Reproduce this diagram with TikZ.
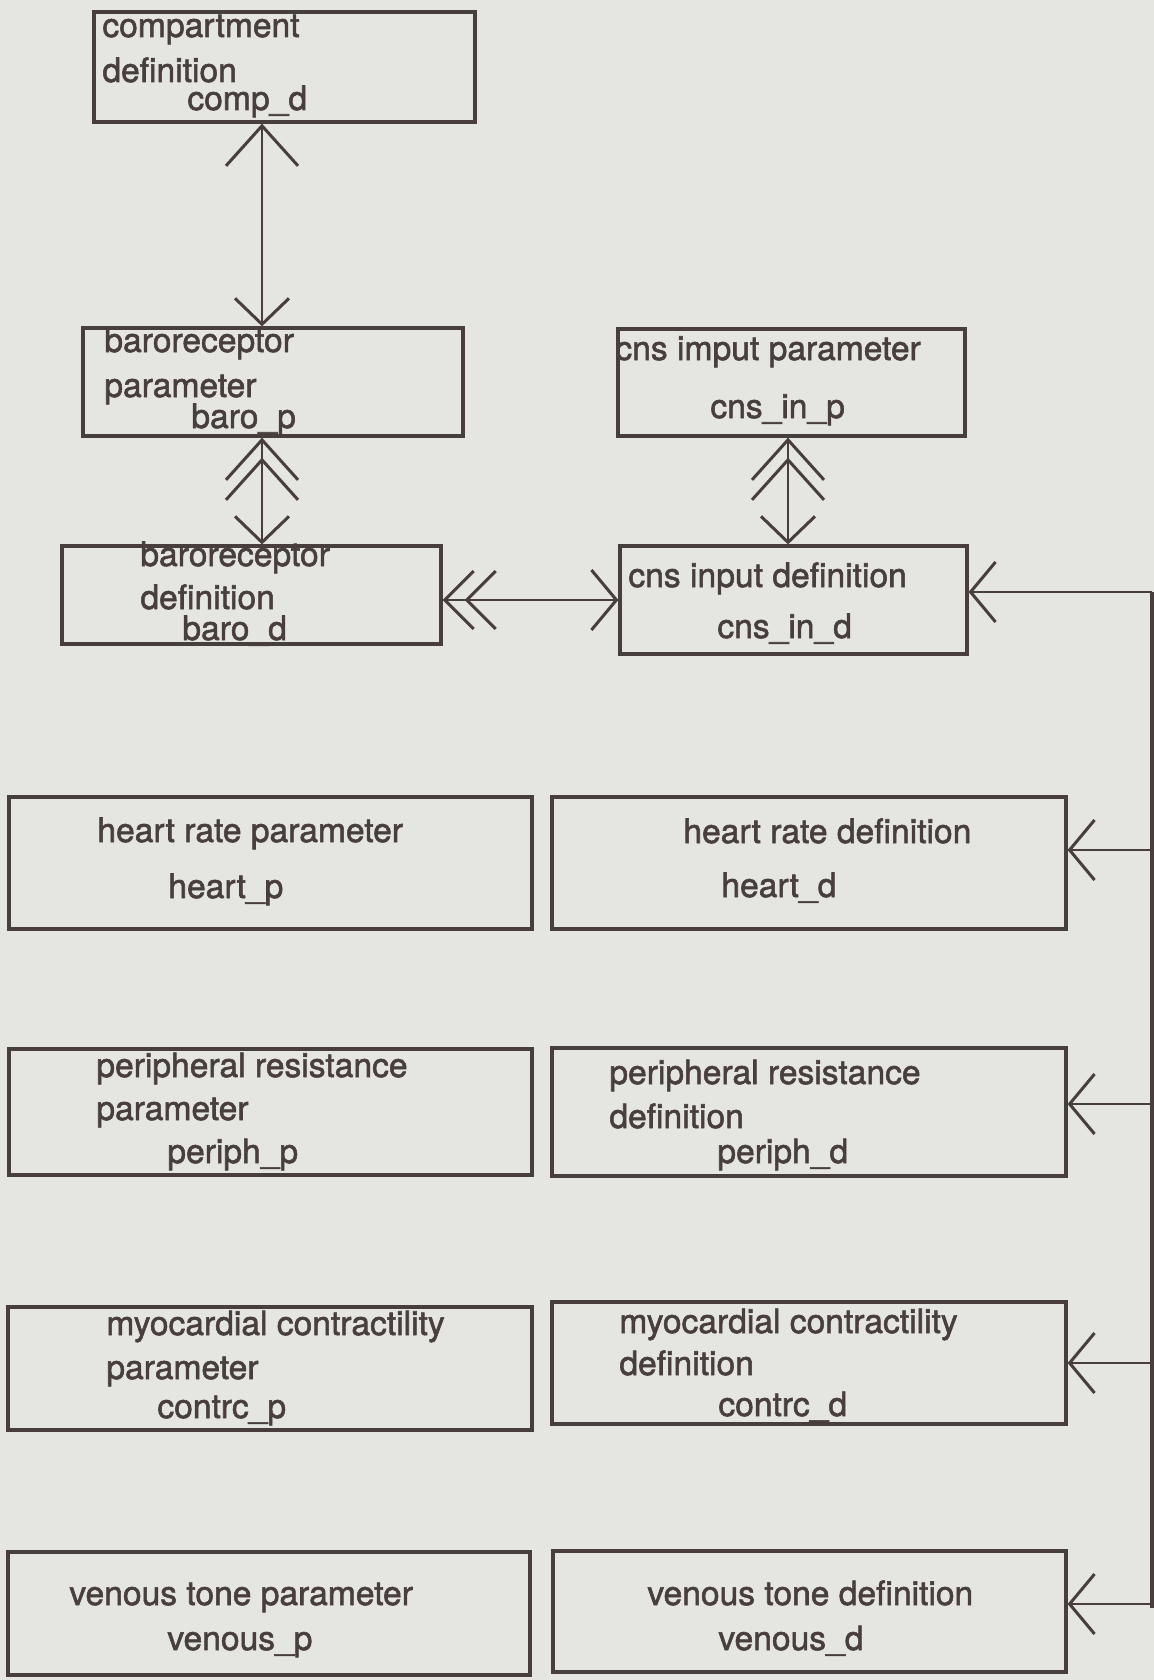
\documentclass[tikz,border=0pt]{standalone}
\usepackage{fontspec}
\setmainfont{TeX Gyre Heros}[FakeBold=1.6]
\usetikzlibrary{arrows.meta,fit,decorations.markings}
\definecolor{paper}{RGB}{229,229,226}
\definecolor{ink}{RGB}{72,62,62}

\tikzset{
  bigbarb/.tip={Straight Barb[length=20pt,width=36pt,line width=1.5pt]},
  smallbarb/.tip={Straight Barb[length=13pt,width=27pt,line width=1.5pt]},
  midbarb/.tip={Straight Barb[length=14.5pt,width=29pt,line width=1.5pt]},
  sidebarb/.tip={Straight Barb[length=12.5pt,width=30pt,line width=1.5pt]},
  box/.style={draw=ink, line width=1.6pt, inner sep=0pt, rectangle},
  lbl/.style={inner sep=0pt, anchor=base west, text=ink,
              font=\fontsize{16.8}{20}\selectfont},
  conn/.style={draw=ink, line width=1.25pt},
  bus/.style={draw=ink, line width=2pt},
  % second chevron of a double head at the start of a connector
  dblstart/.style 2 args={postaction={decorate,
      decoration={markings, mark=at position #1 with {\arrowreversed{#2}}}}},
}

\begin{document}
\begin{tikzpicture}[x=0.5pt,y=-0.5pt]
\fill[paper] (0,0) rectangle (1154,1680);
\useasboundingbox (0,0) rectangle (1154,1680);

% ---- boxes ----
\node[box, fit={(94,12) (475,122)}]     (compD) {};
\node[box, fit={(83,328) (463,436)}]    (baroP) {};
\node[box, fit={(618,329) (965,436)}]   (cnsP) {};
\node[box, fit={(62,546) (441,644)}]    (baroD) {};
\node[box, fit={(620,546) (967,654)}]   (cnsD) {};
\node[box, fit={(9,797) (532,929)}]     (heartP) {};
\node[box, fit={(552,797) (1066,929)}]  (heartD) {};
\node[box, fit={(9,1049) (532,1175)}]   (periphP) {};
\node[box, fit={(552,1048) (1066,1176)}] (periphD) {};
\node[box, fit={(8,1307) (532,1430)}]   (contrcP) {};
\node[box, fit={(552,1302) (1066,1424)}] (contrcD) {};
\node[box, fit={(8,1552) (530,1675)}]   (venousP) {};
\node[box, fit={(553,1551) (1066,1672)}] (venousD) {};

% ---- labels ----
\node[lbl] (compD1) at (102,37)  {compartment};
\node[lbl] (compD2) at (102,82)  {definition};
\node[lbl] (compD3) at (187,110) {comp\_d};

\node[lbl] (baroP1) at (104,352) {baroreceptor};
\node[lbl] (baroP2) at (104,397) {parameter};
\node[lbl] (baroP3) at (191,428) {baro\_p};

\node[lbl] (cnsP1) at (615,360) {cns imput parameter};
\node[lbl] (cnsP2) at (710,418) {cns\_in\_p};

\node[lbl] (baroD1) at (140,566) {baroreceptor};
\node[lbl] (baroD2) at (140,609) {definition};
\node[lbl] (baroD3) at (182,640) {baro\_d};

\node[lbl] (cnsD1) at (628,587) {cns input definition};
\node[lbl] (cnsD2) at (717,638) {cns\_in\_d};

\node[lbl] (heartP1) at (97,842)  {heart rate parameter};
\node[lbl] (heartP2) at (168,898) {heart\_p};
\node[lbl] (heartD1) at (683,843) {heart rate definition};
\node[lbl] (heartD2) at (721,897) {heart\_d};

\node[lbl] (periphP1) at (96,1077)  {peripheral resistance};
\node[lbl] (periphP2) at (96,1120)  {parameter};
\node[lbl] (periphP3) at (167,1163) {periph\_p};
\node[lbl] (periphD1) at (609,1084) {peripheral resistance};
\node[lbl] (periphD2) at (609,1128) {definition};
\node[lbl] (periphD3) at (717,1163) {periph\_d};

\node[lbl] (contrcP1) at (106,1335) {myocardial contractility};
\node[lbl] (contrcP2) at (106,1379) {parameter};
\node[lbl] (contrcP3) at (157,1418) {contrc\_p};
\node[lbl] (contrcD1) at (619,1333) {myocardial contractility};
\node[lbl] (contrcD2) at (619,1375) {definition};
\node[lbl] (contrcD3) at (718,1416) {contrc\_d};

\node[lbl] (venousP1) at (69,1605)  {venous tone parameter};
\node[lbl] (venousP2) at (167,1650) {venous\_p};
\node[lbl] (venousD1) at (647,1605) {venous tone definition};
\node[lbl] (venousD2) at (718,1650) {venous\_d};

% ---- guide coordinates for connectors ----
\coordinate (colA) at (262,0);
\coordinate (colB) at (788,0);
\coordinate (rowA) at (0,600);
\coordinate (busTop) at (1152,592);
\coordinate (busBot) at (1152,1608);
\coordinate (tapHeart)  at (1152,850);
\coordinate (tapPeriph) at (1152,1104);
\coordinate (tapContrc) at (1152,1363);
\coordinate (tapVenous) at (1152,1604);

% ---- connectors ----
\draw[conn, {bigbarb}-{smallbarb}] (compD.south -| colA) -- (baroP.north -| colA);
\draw[conn, {bigbarb}-{smallbarb}, dblstart={10pt}{bigbarb}]
  (baroP.south -| colA) -- (baroD.north -| colA);
\draw[conn, {bigbarb}-{smallbarb}, dblstart={10pt}{bigbarb}]
  (cnsP.south -| colB) -- (cnsD.north -| colB);
\draw[conn, {midbarb}-{sidebarb}, dblstart={11pt}{midbarb}]
  (baroD.east |- rowA) -- (cnsD.west |- rowA);

% bus on the right feeding the definitions
\draw[bus] (busTop) -- (busBot);
\draw[conn, -{sidebarb}] (busTop) -- (busTop -| cnsD.east);
\draw[conn, -{sidebarb}] (tapHeart) -- (tapHeart -| heartD.east);
\draw[conn, -{sidebarb}] (tapPeriph) -- (tapPeriph -| periphD.east);
\draw[conn, -{sidebarb}] (tapContrc) -- (tapContrc -| contrcD.east);
\draw[conn, -{sidebarb}] (tapVenous) -- (tapVenous -| venousD.east);
\end{tikzpicture}
\end{document}
